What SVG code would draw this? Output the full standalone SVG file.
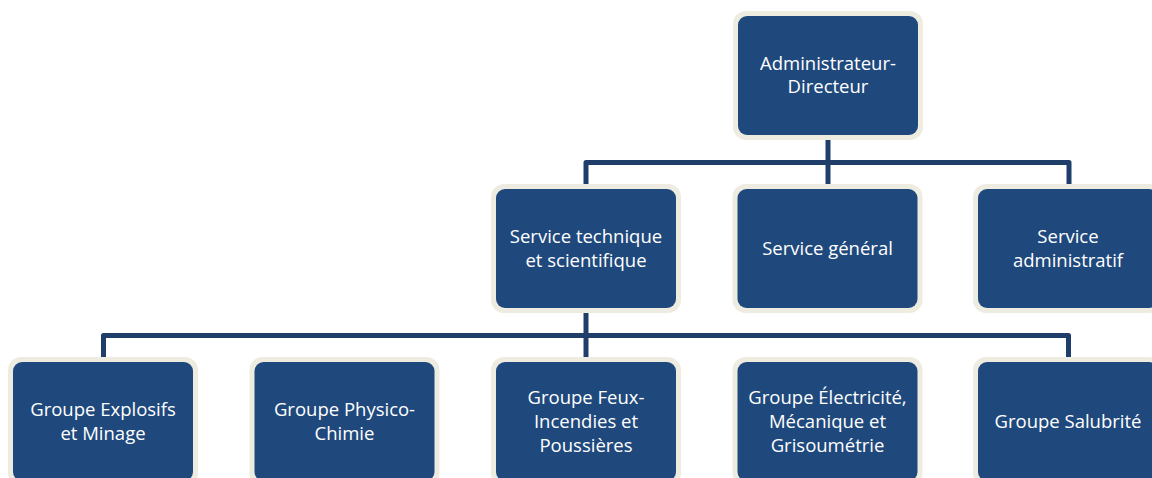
<svg xmlns="http://www.w3.org/2000/svg" width="1152" height="478" viewBox="0 0 1152 478">
<style>
.frame{fill:#EEECE1}
.box{fill:#1F497D}
.lbl{fill:#FFFFFF;font-family:"Open Sans","Liberation Sans",sans-serif;font-size:18.5px;text-anchor:middle}
.conn{fill:none;stroke:#1F3F6A;stroke-width:5;stroke-linejoin:round}
</style>
<rect width="1152" height="478" fill="#FFFFFF"/>
<g id="connectors">
<path class="conn" d="M828,136 V186"/>
<path class="conn" d="M586,186 V162.5 H1069 V186"/>
<path class="conn" d="M586,310 V360"/>
<path class="conn" d="M103.5,360 V335.5 H1068.5 V360"/>
</g>
<g id="n-admin">
<rect class="frame" x="733" y="11" width="190" height="129" rx="13"/>
<rect class="box" x="738" y="16" width="180" height="119" rx="9"/>
<text class="lbl" x="828" y="70">Administrateur-</text>
<text class="lbl" x="828" y="93">Directeur</text>
</g>
<g id="n-tech">
<rect class="frame" x="491" y="184" width="190" height="129" rx="13"/>
<rect class="box" x="496" y="189" width="180" height="119" rx="9"/>
<text class="lbl" x="586" y="243">Service technique</text>
<text class="lbl" x="586" y="267">et scientifique</text>
</g>
<g id="n-general">
<rect class="frame" x="732.5" y="184" width="190" height="129" rx="13"/>
<rect class="box" x="737.5" y="189" width="180" height="119" rx="9"/>
<text class="lbl" x="827.5" y="255">Service général</text>
</g>
<g id="n-admin-svc">
<rect class="frame" x="973" y="184" width="190" height="129" rx="13"/>
<rect class="box" x="978" y="189" width="180" height="119" rx="9"/>
<text class="lbl" x="1068" y="243">Service</text>
<text class="lbl" x="1068" y="267">administratif</text>
</g>
<g id="n-explosifs">
<rect class="frame" x="8" y="357" width="190" height="129" rx="13"/>
<rect class="box" x="13" y="362" width="180" height="119" rx="9"/>
<text class="lbl" x="103" y="416">Groupe Explosifs</text>
<text class="lbl" x="103" y="440">et Minage</text>
</g>
<g id="n-physico">
<rect class="frame" x="249.5" y="357" width="190" height="129" rx="13"/>
<rect class="box" x="254.5" y="362" width="180" height="119" rx="9"/>
<text class="lbl" x="344.5" y="416">Groupe Physico-</text>
<text class="lbl" x="344.5" y="440">Chimie</text>
</g>
<g id="n-feux">
<rect class="frame" x="491" y="357" width="190" height="129" rx="13"/>
<rect class="box" x="496" y="362" width="180" height="119" rx="9"/>
<text class="lbl" x="586" y="404">Groupe Feux-</text>
<text class="lbl" x="586" y="428">Incendies et</text>
<text class="lbl" x="586" y="452">Poussières</text>
</g>
<g id="n-electricite">
<rect class="frame" x="732.5" y="357" width="190" height="129" rx="13"/>
<rect class="box" x="737.5" y="362" width="180" height="119" rx="9"/>
<text class="lbl" x="827.5" y="404">Groupe Électricité,</text>
<text class="lbl" x="827.5" y="428">Mécanique et</text>
<text class="lbl" x="827.5" y="452">Grisoumétrie</text>
</g>
<g id="n-salubrite">
<rect class="frame" x="973" y="357" width="190" height="129" rx="13"/>
<rect class="box" x="978" y="362" width="180" height="119" rx="9"/>
<text class="lbl" x="1068" y="428">Groupe Salubrité</text>
</g>
</svg>
